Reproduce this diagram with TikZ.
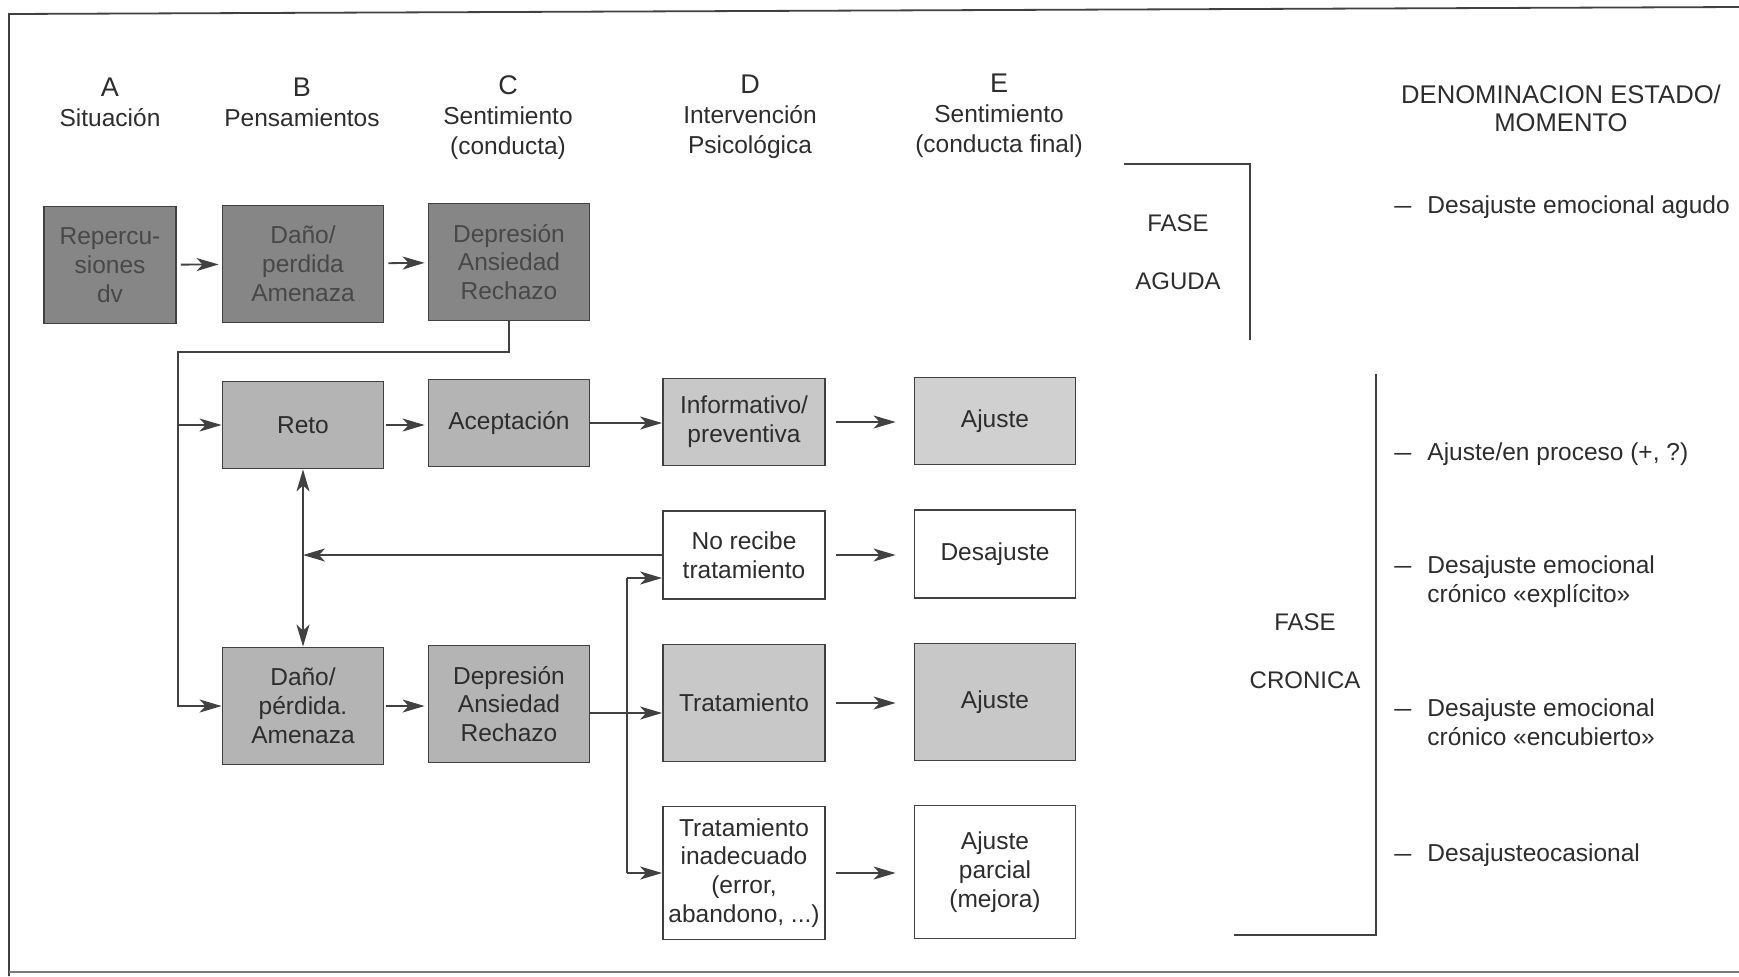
\documentclass[tikz,border=0pt]{standalone}
\usepackage{fontspec}
\setmainfont{Liberation Sans}
\usetikzlibrary{arrows.meta}
\definecolor{txt}{RGB}{45,45,45}
\definecolor{linec}{RGB}{65,65,65}
\definecolor{cdark}{RGB}{134,134,134}
\definecolor{ctxtd}{RGB}{72,72,72}
\definecolor{cmid}{RGB}{180,180,180}
\definecolor{clight}{RGB}{200,200,200}
\definecolor{clighter}{RGB}{208,208,208}
\newcommand{\mydash}{\scalebox{1.25}[1]{–}}
\tikzset{
  base/.style={font=\fontsize{12.25}{14.4}\selectfont, text=txt},
  head/.style={font=\fontsize{12.25}{15}\selectfont, text=txt, align=center, inner sep=0pt},
  box/.style={base, draw=linec, line width=0.9pt, align=center, inner sep=0pt, minimum width=80.5pt},
  darkbox/.style={box, fill=cdark, text=ctxtd, minimum height=58.5pt},
  midbox/.style={box, fill=cmid},
  lightbox/.style={box, fill=clight},
  whitebox/.style={box, fill=white},
  conn/.style={draw=linec, line width=0.9pt},
  tip/.tip={Stealth[length=11pt,width=6.5pt,inset=3pt]},
  arr/.style={conn, -tip},
  freearr/.style={arr, shorten <=5pt, shorten >=9pt},
  phase/.style={font=\fontsize{12}{29}\selectfont, text=txt, align=center, inner sep=0pt},
  item/.style={base, inner sep=0pt, anchor=west}
}
\begin{document}
\begin{tikzpicture}[x=0.5pt,y=-0.5pt]
\useasboundingbox (0,0) rectangle (1739,976);
% frame
\draw[linec, line width=0.9pt] (1739,7) -- (9,14) -- (9,976);
\draw[linec!70, line width=0.9pt] (9,972) -- (1739,972);

% headers
\node[head] (hA) at (110,102) {{\fontsize{13.5}{15}\selectfont A}\\Situación};
\node[head] (hB) at (302,102) {{\fontsize{13.5}{15}\selectfont B}\\Pensamientos};
\node[head] (hC) at (508,117.5) {{\fontsize{13.5}{15}\selectfont C}\\Sentimiento\\(conducta)};
\node[head] (hD) at (750,116.5) {{\fontsize{13.5}{15}\selectfont D}\\Intervención\\Psicológica};
\node[head] (hE) at (999,115.5) {{\fontsize{13.5}{15}\selectfont E}\\Sentimiento\\(conducta final)};
\node[head, font=\fontsize{12.8}{14}\selectfont] (hF) at (1561,108) {DENOMINACION ESTADO/\\MOMENTO};

% row 1
\node[darkbox, minimum width=66pt] (R1a) at (110,265) {Repercu-\\siones\\dv};
\node[darkbox] (R1b) at (303,264) {Daño/\\perdida\\Amenaza};
\node[darkbox] (R1c) at (509,262) {Depresión\\Ansiedad\\Rechazo};

% row 2
\node[midbox, minimum height=43.5pt] (Reto) at (303,425) {Reto};
\node[midbox, minimum height=43.5pt] (Acep) at (509,423) {Aceptación};
\node[lightbox, minimum height=43.5pt, minimum width=81pt] (Info) at (744,422) {Informativo/\\preventiva};
\node[lightbox, fill=clighter, minimum height=43.5pt] (Aj1) at (995,421) {Ajuste};

% row 3
\node[whitebox, minimum height=44pt, minimum width=81pt] (NoRec) at (744,555) {No recibe\\tratamiento};
\node[whitebox, minimum height=44pt] (Desaj) at (995,554) {Desajuste};

% row 4
\node[midbox, minimum height=58.5pt] (Dano2) at (303,706) {Daño/\\pérdida.\\Amenaza};
\node[midbox, minimum height=58.5pt] (Dep2) at (509,704) {Depresión\\Ansiedad\\Rechazo};
\node[lightbox, minimum height=58.5pt, minimum width=81pt] (Trat) at (744,703) {Tratamiento};
\node[lightbox, minimum height=58.5pt] (Aj2) at (995,702) {Ajuste};

% row 5
\node[whitebox, minimum height=66.5pt, minimum width=81pt] (TratInad) at (744,873) {Tratamiento\\inadecuado\\(error,\\abandono, ...)};
\node[whitebox, minimum height=66.5pt] (AjParc) at (995,872) {Ajuste\\parcial\\(mejora)};

% connectors
\draw[arr, shorten <=2pt, shorten >=1.5pt] (R1a) -- (R1b);
\draw[arr, shorten <=2pt, shorten >=1.5pt] (R1b) -- (R1c);
\coordinate (j1) at (178,352);
\draw[arr] (R1c.south) |- (j1) |- (Dano2.west);
\draw[arr] (j1 |- Reto.west) -- (Reto.west);
\draw[arr, shorten <=1pt, shorten >=1.5pt] (Reto) -- (Acep.west |- Reto.east);
\draw[arr] (Acep) -- (Info.west |- Acep.east);
\draw[freearr] (Info) -- (Aj1.west |- Info.east);
\draw[freearr] (NoRec) -- (Desaj.west |- NoRec.east);
\draw[freearr] (Trat) -- (Aj2.west |- Trat.east);
\draw[freearr] (TratInad) -- (AjParc.west |- TratInad.east);
\draw[arr] (NoRec.west) -- (NoRec.west -| Reto.south);
\draw[conn, tip-tip] (Reto.south) -- (Dano2.north);
\draw[arr, shorten <=1pt, shorten >=1.5pt] (Dano2) -- (Dep2.west |- Dano2.east);
\draw[arr] (Dep2.east) ++(0,9) coordinate (d2) -- (d2 -| Trat.west);
\coordinate (b1) at (627,578);
\coordinate (b2) at (627,873);
\draw[arr] (b1) -- (b1 -| NoRec.west);
\draw[conn] (b1) -- (b2);
\draw[arr] (b2) -- (b2 -| TratInad.west);

% phases
\draw[conn, line width=0.8pt] (1124,164) -| (1250,340);
\node[phase] (fA) at (1178,252) {FASE\\AGUDA};
\draw[conn, line width=0.8pt] (1376,374) |- (1234,935);
\node[phase] (fC) at (1305,651) {FASE\\CRONICA};

% right list
\node[item] (i1) at (1394,207.5) {\begin{tabular}{@{}l@{\hspace{8pt}}l@{}}\mydash&Desajuste emocional agudo\end{tabular}};
\node[item] (i2) at (1394,454.5) {\begin{tabular}{@{}l@{\hspace{8pt}}l@{}}\mydash&Ajuste/en proceso (+, ?)\end{tabular}};
\node[item] (i3) at (1394,582) {\begin{tabular}{@{}l@{\hspace{8pt}}l@{}}\mydash&Desajuste emocional\\&crónico «explícito»\end{tabular}};
\node[item] (i4) at (1394,725) {\begin{tabular}{@{}l@{\hspace{8pt}}l@{}}\mydash&Desajuste emocional\\&crónico «encubierto»\end{tabular}};
\node[item] (i5) at (1394,855.5) {\begin{tabular}{@{}l@{\hspace{8pt}}l@{}}\mydash&Desajusteocasional\end{tabular}};
\end{tikzpicture}
\end{document}
